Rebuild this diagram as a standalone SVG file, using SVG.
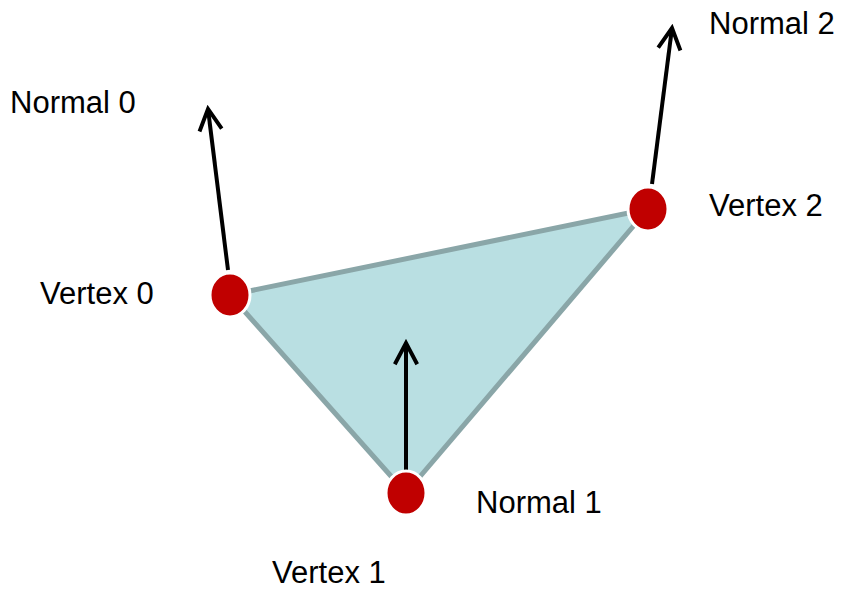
<svg xmlns="http://www.w3.org/2000/svg" width="842" height="589" viewBox="0 0 842 589">
<defs>
<style>
.lbl{font-family:"Liberation Sans",Arial,sans-serif;font-size:31px;fill:#000}
.arr{stroke:#000;stroke-width:4;fill:none;marker-end:url(#head)}
.vtx{fill:#c00000;stroke:#fff;stroke-width:3}
</style>
<marker id="head" viewBox="0 0 10 10" refX="8.6" refY="5" markerWidth="7" markerHeight="7" orient="auto" markerUnits="strokeWidth">
<path d="M1,1 L8.6,5 L1,9" fill="none" stroke="#000" stroke-width="1.4"/>
</marker>
</defs>
<rect width="842" height="589" fill="#fff"/>
<g id="triangle">
<polygon points="230,295 406,493 648,209" fill="#b9dfe2" stroke="#8aa6a8" stroke-width="5" stroke-linejoin="round"/>
</g>
<g id="connectors">
<line class="arr" x1="228" y1="270" x2="208" y2="109"/>
<line class="arr" x1="406" y1="470" x2="406" y2="343"/>
<line class="arr" x1="652" y1="184" x2="672" y2="28"/>
</g>
<g id="vertex0"><ellipse class="vtx" cx="230" cy="295" rx="20" ry="22"/><text class="lbl" x="40" y="304">Vertex 0</text></g>
<g id="vertex1"><ellipse class="vtx" cx="406" cy="493" rx="20" ry="22"/><text class="lbl" x="272" y="583">Vertex 1</text></g>
<g id="vertex2"><ellipse class="vtx" cx="648" cy="209" rx="20" ry="22"/><text class="lbl" x="709" y="216">Vertex 2</text></g>
<g id="normal0"><text class="lbl" x="10" y="113">Normal 0</text></g>
<g id="normal1"><text class="lbl" x="476" y="513">Normal 1</text></g>
<g id="normal2"><text class="lbl" x="709" y="34">Normal 2</text></g>
</svg>
